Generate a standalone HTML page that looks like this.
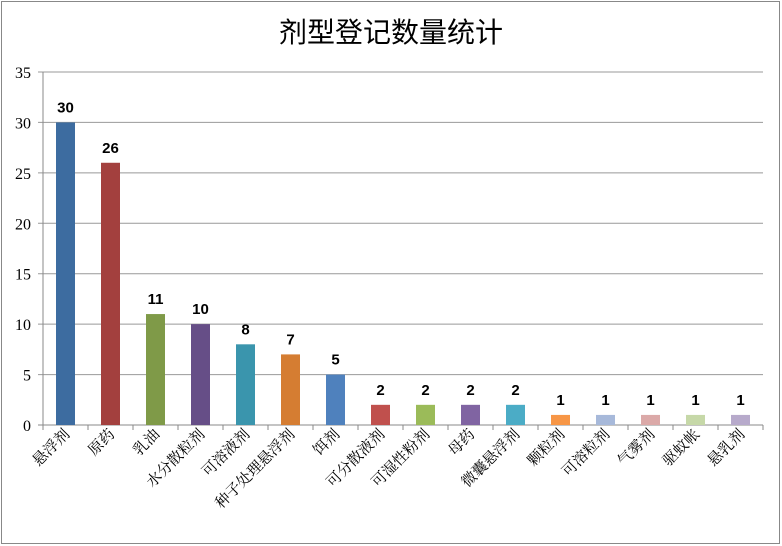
<!DOCTYPE html>
<html><head><meta charset="utf-8"><style>
body{margin:0;background:#fff;}
svg{display:block;font-family:"Liberation Serif","Noto Serif CJK SC",serif;}
</style></head><body>
<svg id="c" width="782" height="546">
<rect x="1.5" y="1.5" width="778" height="542" fill="#fff" stroke="#888"/>
<text x="391" y="42" font-size="28" text-anchor="middle" font-family="'Liberation Sans','Noto Sans CJK SC',sans-serif">剂型登记数量统计</text>
<g id="grid"></g><g id="bars"></g><g id="labels"></g>
</svg>
<script>
const categories=["悬浮剂","原药","乳油","水分散粒剂","可溶液剂","种子处理悬浮剂","饵剂","可分散液剂","可湿性粉剂","母药","微囊悬浮剂","颗粒剂","可溶粒剂","气雾剂","驱蚊帐","悬乳剂"];
const values=[30,26,11,10,8,7,5,2,2,2,2,1,1,1,1,1];
const yTicks=[0,5,10,15,20,25,30,35];
const colors=["#3D6CA0","#A3403E","#7F9A48","#664E87","#3A95AD","#D57D32","#4F81BD","#C0504D","#9BBB59","#8064A2","#4BACC6","#F79646","#A7B9DA","#DBA9A8","#C6D8A8","#B7AACB"];
const NS="http://www.w3.org/2000/svg";
const X0=43,X1=763,Y0=425,Y1=72,YMAX=35;
const band=(X1-X0)/categories.length;
const y=v=>Y0-(v/YMAX)*(Y0-Y1);
const xc=i=>X0+band*(i+0.5);
function mk(tag,attrs,parent){const e=document.createElementNS(NS,tag);for(const k in attrs)e.setAttribute(k,attrs[k]);parent.appendChild(e);return e;}
const grid=document.getElementById('grid'),bars=document.getElementById('bars'),labels=document.getElementById('labels');
yTicks.forEach(t=>{
  const l=mk('line',{x1:X0-5,x2:X1,y1:y(t),y2:y(t),stroke:t===0?'#888':'#999','stroke-width':1},grid);
  
  
  const tx=mk('text',{x:X0-12,y:y(t)+6,'font-size':16,'text-anchor':'end'},grid);
  tx.textContent=t;
  
  
});
const ax=mk('line',{x1:X0,x2:X0,y1:Y1,y2:Y0,stroke:'#888'},grid);


for(let i=0;i<=categories.length;i++){
  const tk=mk('line',{x1:X0+band*i,x2:X0+band*i,y1:Y0,y2:Y0+5,stroke:'#888'},grid);
  
  
}
categories.forEach((c,i)=>{
  const v=values[i],bw=19;
  const r=mk('rect',{x:xc(i)-bw/2,y:y(v),width:bw,height:Y0-y(v),fill:colors[i]},bars);
  
  
  const vl=mk('text',{x:xc(i),y:y(v)-10,'font-size':15,'font-weight':'bold','text-anchor':'middle','font-family':"'Liberation Sans',sans-serif"},labels);
  vl.textContent=v;
  
  
  const cx=xc(i)+5,cy=Y0+10;
  const cl=mk('text',{x:cx,y:cy,'font-size':15,'text-anchor':'end',transform:`rotate(-45 ${cx} ${cy})`},labels);
  cl.textContent=c;
  
  
});
</script>
</body></html>
